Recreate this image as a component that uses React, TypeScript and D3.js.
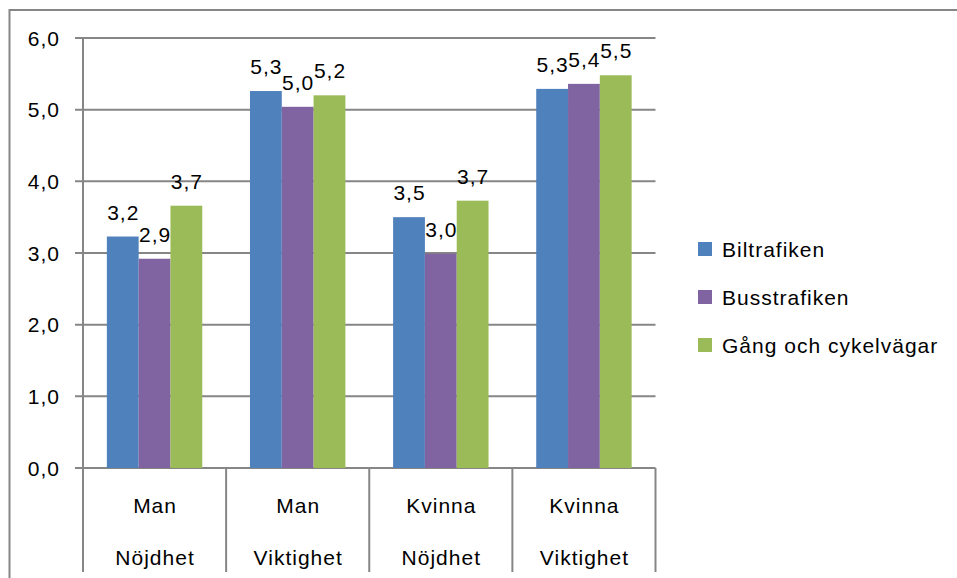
import React from "react";
import * as d3 from "d3";

const categories = [
  ["Man", "Nöjdhet"],
  ["Man", "Viktighet"],
  ["Kvinna", "Nöjdhet"],
  ["Kvinna", "Viktighet"],
];
const seriesNames = ["Biltrafiken", "Busstrafiken", "Gång och cykelvägar"];
const biltrafiken = [3.23, 5.26, 3.5, 5.29];
const busstrafiken = [2.92, 5.04, 2.99, 5.36];
const gangCykel = [3.66, 5.2, 3.73, 5.48];
const seriesValues = [biltrafiken, busstrafiken, gangCykel];
const colors = ["#4F81BD", "#8064A2", "#9BBB59"];
const yTicks = [0, 1, 2, 3, 4, 5, 6];

const W = 957;
const H = 578;
const left = 83;
const right = 655.5;
const top = 38;
const bottom = 468;
const FONT = "'Liberation Sans', Arial, sans-serif";
const GRID = "#868686";
const SW = 2;

const fmt = (v: number) => (Math.round(v * 10) / 10).toFixed(1).replace(".", ",");

export default function App() {
  const y = d3.scaleLinear().domain([0, 6]).range([bottom, top]);
  const x0 = d3
    .scaleBand<number>()
    .domain(categories.map((_, i) => i))
    .range([left, right])
    .paddingInner(0)
    .paddingOuter(0);
  const groupW = x0.bandwidth();
  const barW = groupW / 4.5;
  const x1 = d3
    .scaleBand<number>()
    .domain([0, 1, 2])
    .range([barW * 0.75, barW * 3.75]);

  const LS = 1;
  const textStyle = { fontFamily: FONT, fontSize: 21, letterSpacing: LS } as any;

  return (
    <svg
      width={W}
      height={H}
      style={{ position: "absolute", left: 0, top: 0, background: "#fff" }}
    >
      {/* chart border */}
      <rect x={9.5} y={10} width={W + 20} height={H + 20} fill="#fff" stroke={GRID} strokeWidth={SW} />

      {/* gridlines and ticks */}
      {yTicks.map((t) => (
        <g key={t}>
          <line x1={left - 8} x2={right} y1={y(t)} y2={y(t)} stroke={GRID} strokeWidth={SW} />
          <text
            x={59 + LS}
            y={y(t)}
            dy="0.36em"
            textAnchor="end"
            style={textStyle}
            fill="#000"
          >
            {fmt(t)}
          </text>
        </g>
      ))}

      {/* bars */}
      {seriesValues.map((vals, s) =>
        vals.map((v, i) => (
          <rect
            key={`${s}-${i}`}
            x={(x0(i) as number) + (x1(s) as number)}
            y={y(v)}
            width={x1.bandwidth()}
            height={y(0) - y(v)}
            fill={colors[s]}
          />
        ))
      )}

      {/* data labels */}
      {seriesValues.map((vals, s) =>
        vals.map((v, i) => (
          <text
            key={`l-${s}-${i}`}
            x={(x0(i) as number) + (x1(s) as number) + x1.bandwidth() / 2 + LS / 2}
            y={y(v) - 17}
            textAnchor="middle"
            style={textStyle}
            fill="#000"
          >
            {fmt(v)}
          </text>
        ))
      )}

      {/* y axis line */}
      <line x1={left} x2={left} y1={top} y2={572} stroke={GRID} strokeWidth={SW} />
      {/* category separators */}
      {categories.map((_, i) => (
        <line
          key={`sep-${i}`}
          x1={(x0(i) as number) + groupW}
          x2={(x0(i) as number) + groupW}
          y1={bottom}
          y2={572}
          stroke={GRID}
          strokeWidth={SW}
        />
      ))}

      {/* category labels */}
      {categories.map((c, i) => (
        <g key={`cat-${i}`}>
          <text
            x={(x0(i) as number) + groupW / 2 + LS / 2}
            y={513}
            textAnchor="middle"
            style={textStyle}
            fill="#000"
          >
            {c[0]}
          </text>
          <text
            x={(x0(i) as number) + groupW / 2 + LS / 2}
            y={565}
            textAnchor="middle"
            style={textStyle}
            fill="#000"
          >
            {c[1]}
          </text>
        </g>
      ))}

      {/* legend */}
      {seriesNames.map((n, s) => {
        const cy = 249 + s * 48;
        return (
          <g key={`leg-${s}`}>
            <rect x={698} y={cy - 7} width={14} height={14} fill={colors[s]} />
            <text x={722} y={cy} dy="0.36em" style={textStyle} fill="#000">
              {n}
            </text>
          </g>
        );
      })}
    </svg>
  );
}
